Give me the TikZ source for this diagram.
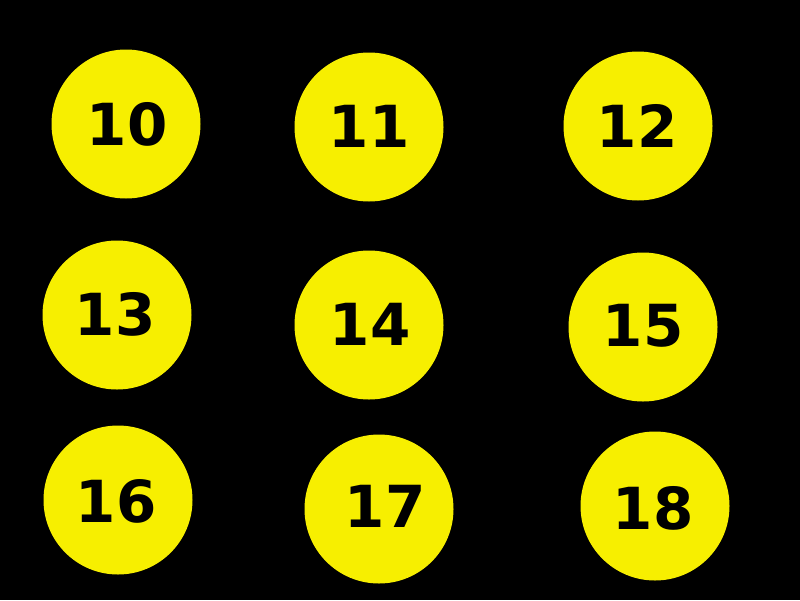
\documentclass[tikz,border=0pt]{standalone}
\usepackage{fontspec}
\setmainfont{DejaVu Sans}
\definecolor{ballyellow}{RGB}{247, 239, 0}

\begin{document}
\begin{tikzpicture}[x=1pt, y=-1pt,
  ball/.style={circle, fill=ballyellow, minimum size=149pt, inner sep=0pt},
  num/.style={font=\fontsize{58}{58}\bfseries\selectfont, text=black, inner sep=0pt}]
% Background
\fill[black] (0,0) rectangle (800,600);
\useasboundingbox (0,0) rectangle (800,600);

% Balls, row by row
\node[ball] (b10) at (126,124) {};
\node[ball] (b11) at (369,127) {};
\node[ball] (b12) at (638,126) {};
\node[ball] (b13) at (117,315) {};
\node[ball] (b14) at (369,325) {};
\node[ball] (b15) at (643,327) {};
\node[ball] (b16) at (118,500) {};
\node[ball] (b17) at (379,509) {};
\node[ball] (b18) at (655,506) {};

% Numbers
\node[num] (t10) at (127,124) {10};
\node[num] (t11) at (369,126) {11};
\node[num] (t12) at (637,126) {12};
\node[num] (t13) at (115,314) {13};
\node[num] (t14) at (370,324) {14};
\node[num] (t15) at (643,326) {15};
\node[num] (t16) at (116,501) {16};
\node[num] (t17) at (385,506) {17};
\node[num] (t18) at (653,508) {18};
\end{tikzpicture}
\end{document}
